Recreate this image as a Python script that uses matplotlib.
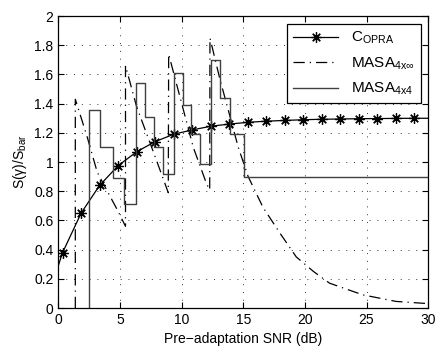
import matplotlib
matplotlib.use('Agg')
import matplotlib.pyplot as plt
import numpy as np

plt.rcParams['font.family'] = ['Liberation Sans', 'DejaVu Sans']
plt.rcParams['mathtext.default'] = 'regular'
plt.rcParams['font.size'] = 10

# C_OPRA curve (markers every 1.5 dB)
opra_x = [0.0, 0.35, 1.85, 3.35, 4.85, 6.35, 7.85, 9.35, 10.85, 12.35, 13.85,
          15.35, 16.85, 18.35, 19.85, 21.35, 22.85, 24.35, 25.85, 27.35, 28.85, 30.0]
opra_y = [0.29, 0.38, 0.65, 0.84, 0.975, 1.07, 1.14, 1.19, 1.22, 1.245, 1.26,
          1.272, 1.28, 1.285, 1.29, 1.293, 1.295, 1.297, 1.298, 1.299, 1.3, 1.3]

# MASA 4x-infinity (dash-dot sawtooth)
inf_x = [1.38, 1.38, 2.35, 3.16, 4.8, 5.45, 5.45, 6.35, 7.84, 8.92,
         8.95, 9.73, 10.95, 12.03, 12.28, 12.3, 13.1, 13.9, 14.6, 15.4,
         16.6, 18.0, 19.3, 20.7, 22.0, 24.7, 27.4, 30.0]
inf_y = [0.0, 1.43, 1.17, 0.93, 0.67, 0.56, 1.66, 1.38, 1.04, 0.79,
         1.74, 1.49, 1.10, 0.85, 0.81, 1.85, 1.57, 1.32, 1.10, 0.90,
         0.69, 0.51, 0.35, 0.25, 0.17, 0.09, 0.045, 0.03]

# MASA 4x4 (staircase)
step_x = [2.5, 2.5, 3.4, 4.4, 5.35, 6.3, 7.03, 7.78, 8.52, 9.4, 10.1, 10.75,
          11.5, 12.35, 13.1, 13.9, 15.05, 30.0]
step_y = [0.0, 1.36, 1.10, 0.89, 0.71, 1.54, 1.31, 1.10, 0.92, 1.61, 1.39, 1.19,
          0.99, 1.70, 1.44, 1.19, 0.90, 0.90]

fig = plt.figure(figsize=(4.43, 3.5), dpi=100)
ax = fig.add_axes([0.1316, 0.12, 0.835, 0.834])

opra_mark = list(range(1, len(opra_x) - 1))
ax.plot(opra_x, opra_y, color='k', lw=0.9, marker=(8, 2, 0), markersize=7.5,
        markeredgewidth=0.9, markevery=opra_mark, label='C$_{OPRA}$')
ax.plot(inf_x, inf_y, color='k', lw=0.9, dashes=(9, 4, 1, 4),
        label='MASA$_{4x\\infty}$')
ax.step(step_x, step_y, where='post', color='#404040', lw=1.0,
        label='MASA$_{4x4}$')

ax.set_xlim(0, 30)
ax.set_ylim(0, 2)
ax.set_xticks(np.arange(0, 31, 5))
ax.set_yticks(np.arange(0, 2.01, 0.2))
ax.set_yticklabels(['0', '0.2', '0.4', '0.6', '0.8', '1', '1.2', '1.4', '1.6', '1.8', '2'])
ax.grid(True, linestyle=(0, (1, 7)), color='k', lw=0.7, alpha=0.8)
ax.tick_params(direction='in', top=True, right=True, length=4)
for s in ax.spines.values():
    s.set_linewidth(0.9)

ax.set_xlabel('Pre\u2212adaptation SNR (dB)')
ax.set_ylabel('S(\u03b3)/S$_{bar}$')

leg = ax.legend(loc='upper right', fancybox=False, framealpha=1,
                edgecolor='k', borderaxespad=0.5, handlelength=3.0,
                labelspacing=0.6, fontsize=11)
leg.get_frame().set_linewidth(0.9)

fig.savefig('out.png', dpi=100)
